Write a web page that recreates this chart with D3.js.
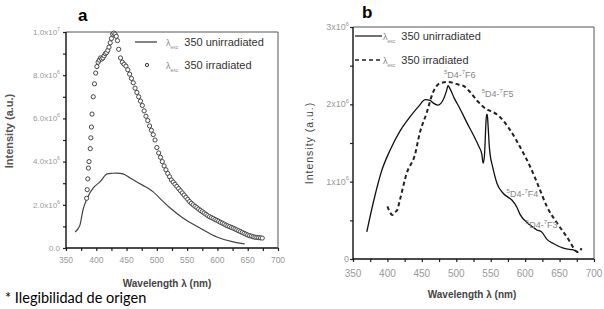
<!DOCTYPE html>
<html>
<head>
<meta charset="utf-8">
<script src="https://cdn.jsdelivr.net/npm/d3@7"></script>
<style>
  body { margin: 0; background: #fff; }
  svg { display: block; font-family: "Liberation Sans", Arial, sans-serif; }
</style>
</head>
<body>
<div id="chart"></div>
<script>
const W = 604, H = 309;

// panel a: values in units of 1e6
const aUnirrNm  = [365, 370, 373, 378, 386, 395, 406, 418, 426, 434, 444, 456, 467, 477, 486, 494, 505, 522, 543, 571, 599, 626, 645];
const aUnirrVal = [0.74, 0.9, 1.06, 1.76, 2.36, 2.78, 3.06, 3.43, 3.46, 3.47, 3.43, 3.24, 3.06, 2.9, 2.76, 2.6, 2.3, 1.85, 1.39, 0.93, 0.51, 0.28, 0.19];

const aIrrNm  = [384, 385, 386, 387, 388, 390, 391, 392, 393, 395, 397, 399, 401, 403, 405, 407, 409, 411, 413, 415, 417, 419, 421, 423, 425, 427, 429, 431, 433, 435, 437, 440, 443, 446, 449, 452, 455, 458, 461, 464, 467, 470, 473, 476, 479, 482, 485, 488, 491, 494, 497, 500, 503, 506, 509, 512, 515, 518, 521, 524, 527, 530, 533, 536, 539, 542, 545, 548, 551, 554, 557, 560, 563, 566, 569, 572, 575, 578, 581, 584, 587, 590, 593, 596, 599, 602, 605, 608, 611, 614, 617, 620, 623, 626, 629, 632, 635, 638, 641, 644, 647, 650, 653, 656, 659, 662, 665, 668, 671, 674];
const aIrrVal = [2.3, 2.7, 3.2, 3.7, 4.0, 4.6, 5.1, 5.6, 6.2, 7.0, 7.6, 8.1, 8.4, 8.6, 8.7, 8.8, 8.75, 8.8, 8.9, 9.0, 9.05, 9.15, 9.3, 9.5, 9.7, 9.9, 9.95, 9.9, 9.8, 9.6, 9.2, 8.8, 8.6, 8.5, 8.42, 8.25, 8.05, 7.85, 7.65, 7.4, 7.2, 7.0, 6.8, 6.6, 6.35, 6.1, 5.9, 5.65, 5.45, 5.25, 5.0, 4.65, 4.4, 4.2, 4.0, 3.8, 3.62, 3.45, 3.3, 3.15, 3.05, 2.95, 2.85, 2.75, 2.65, 2.55, 2.45, 2.35, 2.25, 2.15, 2.07, 2.0, 1.93, 1.87, 1.8, 1.74, 1.68, 1.62, 1.56, 1.5, 1.45, 1.41, 1.37, 1.32, 1.28, 1.24, 1.19, 1.15, 1.11, 1.06, 1.02, 0.99, 0.95, 0.92, 0.88, 0.84, 0.8, 0.76, 0.72, 0.68, 0.64, 0.6, 0.57, 0.55, 0.52, 0.5, 0.49, 0.48, 0.47, 0.46];

// panel b: values in units of 1e6
const bUnirrNm  = [370, 380, 392, 404, 418, 433, 445, 455, 462, 466, 473, 481, 486, 488, 491, 497, 505, 515, 525, 533, 537, 539, 541, 543, 544, 545, 546, 548, 550, 552, 559, 568, 575, 581, 588, 593, 603, 610, 617, 624, 632, 641, 651, 660, 669, 677];
const bUnirrVal = [0.35, 0.75, 1.15, 1.41, 1.65, 1.84, 1.97, 2.06, 2.05, 2.02, 1.99, 2.06, 2.18, 2.24, 2.2, 2.08, 1.95, 1.77, 1.6, 1.45, 1.36, 1.24, 1.35, 1.75, 1.87, 1.87, 1.75, 1.45, 1.3, 1.22, 0.98, 0.85, 0.8, 0.76, 0.67, 0.57, 0.47, 0.42, 0.375, 0.35, 0.25, 0.2, 0.155, 0.13, 0.12, 0.08];

const bIrrNm  = [400, 404, 407, 410, 414, 418, 428, 440, 447, 457, 466, 476, 488, 495, 505, 510, 520, 530, 539, 563, 578, 595, 607, 619, 632, 646, 661, 677, 682];
const bIrrVal = [0.68, 0.6, 0.57, 0.6, 0.63, 0.76, 1.11, 1.35, 1.63, 1.89, 2.15, 2.27, 2.29, 2.28, 2.25, 2.24, 2.16, 2.05, 1.97, 1.84, 1.67, 1.41, 1.2, 0.95, 0.67, 0.47, 0.28, 0.09, 0.14];

const xTicks = [350, 400, 450, 500, 550, 600, 650, 700];
const aYTicks = [0, 2, 4, 6, 8, 10];
const aYLabels = [["0.0", ""], ["2.0x10", "6"], ["4.0x10", "6"], ["6.0x10", "6"], ["8.0x10", "6"], ["1.0x10", "7"]];
const bYTicks = [0, 1, 2, 3];
const bYLabels = [["0", ""], ["1x10", "6"], ["2x10", "6"], ["3x10", "6"]];
const bNotes = [
  { nm: 482, v: 2.34, t: "F6" },
  { nm: 537, v: 2.1, t: "F5" },
  { nm: 573, v: 0.8, t: "F4" },
  { nm: 601, v: 0.4, t: "F3" }
];

const svg = d3.select("#chart").append("svg").attr("width", W).attr("height", H);

const xa = d3.scaleLinear().domain([350, 700]).range([66, 278]);
const ya = d3.scaleLinear().domain([0, 10]).range([248, 32]);
const xb = d3.scaleLinear().domain([350, 700]).range([353, 594]);
const yb = d3.scaleLinear().domain([0, 3]).range([259, 27]);

function frame(x, y, minorX, minorY) {
  const g = svg.append("g");
  const [x0, x1] = x.range(), [y0, y1] = y.range();
  // small outward ticks
  g.append("g").attr("transform", `translate(0,${y0})`)
    .call(d3.axisBottom(x).tickValues(minorX).tickSize(3).tickFormat(""))
    .call(s => s.select(".domain").remove());
  g.append("g").attr("transform", `translate(${x0},0)`)
    .call(d3.axisLeft(y).tickValues(minorY).tickSize(3).tickFormat(""))
    .call(s => s.select(".domain").remove());
  g.selectAll("line").attr("stroke", "#222").attr("stroke-width", 1.2);
  g.append("path").attr("d", `M${x0},${y1}H${x1}V${y0}`)
    .attr("fill", "none").attr("stroke", "#555").attr("stroke-width", 1);
  g.append("path").attr("d", `M${x0},${y1}V${y0}H${x1}`)
    .attr("fill", "none").attr("stroke", "#111").attr("stroke-width", 1.4);
}

function yLabels(y, ticks, labels, xr, size) {
  ticks.forEach((t, i) => {
    const tx = svg.append("text").attr("x", xr).attr("y", y(t) + size * 0.35)
      .attr("text-anchor", "end").attr("fill", "#999").attr("font-size", size);
    tx.append("tspan").text(labels[i][0]);
    if (labels[i][1]) tx.append("tspan").attr("dy", -size * 0.5).attr("font-size", size * 0.65).text(labels[i][1]);
  });
}

function xLabels(x, yPos, size) {
  svg.append("g").selectAll("text").data(xTicks).join("text")
    .attr("x", d => x(d)).attr("y", yPos).attr("text-anchor", "middle")
    .attr("fill", "#999").attr("font-size", size).text(d => d);
}

function legendText(x, y, label) {
  const t = svg.append("text").attr("x", x).attr("y", y + 4).attr("fill", "#333");
  t.append("tspan").attr("font-size", 9).attr("fill", "#888").text("λ");
  t.append("tspan").attr("font-size", 5).attr("dy", 3).attr("fill", "#888").text("exc");
  t.append("tspan").attr("font-size", 11).attr("dy", -3).attr("dx", 6).text(label);
}

// ---------- panel a ----------
frame(xa, ya, d3.range(350, 701, 25), d3.range(0, 10.1, 1));
yLabels(ya, aYTicks, aYLabels, 60, 8);
xLabels(xa, 263, 8.5);

const lineA = d3.line().x(d => xa(d[0])).y(d => ya(d[1])).curve(d3.curveMonotoneX);
svg.append("path").datum(d3.zip(aUnirrNm, aUnirrVal)).attr("d", lineA)
  .attr("fill", "none").attr("stroke", "#444").attr("stroke-width", 1.2);
svg.append("g").selectAll("circle").data(d3.zip(aIrrNm, aIrrVal)).join("circle")
  .attr("cx", d => xa(d[0])).attr("cy", d => ya(d[1])).attr("r", 2.1)
  .attr("fill", "#fff").attr("stroke", "#333").attr("stroke-width", 0.9);

svg.append("text").attr("x", 78).attr("y", 21).attr("font-size", 17).attr("font-weight", "bold").text("a");
svg.append("line").attr("x1", 135).attr("x2", 157).attr("y1", 42).attr("y2", 42).attr("stroke", "#333").attr("stroke-width", 1.2);
legendText(166, 42, "350 unirradiated");
svg.append("circle").attr("cx", 147).attr("cy", 65).attr("r", 1.6).attr("fill", "#fff").attr("stroke", "#333");
legendText(166, 65, "350 irradiated");

svg.append("text").attr("transform", "translate(13,131) rotate(-90)").attr("text-anchor", "middle")
  .attr("font-size", 11).attr("font-weight", "bold").attr("fill", "#555").text("Intensity (a.u.)");
svg.append("text").attr("x", 167).attr("y", 287).attr("text-anchor", "middle")
  .attr("font-size", 10).attr("font-weight", "bold").attr("fill", "#444").text("Wavelength λ (nm)");

svg.append("text").attr("x", 5).attr("y", 303).attr("font-family", "Lato, sans-serif")
  .attr("font-size", 14.5).attr("fill", "#000").text("* Ilegibilidad de origen");

// ---------- panel b ----------
frame(xb, yb, d3.range(350, 701, 25), d3.range(0, 3.01, 0.5));
yLabels(yb, bYTicks, bYLabels, 349, 9);
xLabels(xb, 277, 10);

const lineB = d3.line().x(d => xb(d[0])).y(d => yb(d[1])).curve(d3.curveMonotoneX);
svg.append("path").datum(d3.zip(bUnirrNm, bUnirrVal)).attr("d", lineB)
  .attr("fill", "none").attr("stroke", "#111").attr("stroke-width", 1.3);
svg.append("path").datum(d3.zip(bIrrNm, bIrrVal)).attr("d", lineB)
  .attr("fill", "none").attr("stroke", "#222").attr("stroke-width", 2).attr("stroke-dasharray", "4,3");

svg.append("text").attr("x", 362).attr("y", 18).attr("font-size", 17).attr("font-weight", "bold").text("b");
svg.append("line").attr("x1", 355).attr("x2", 382).attr("y1", 36).attr("y2", 36).attr("stroke", "#111").attr("stroke-width", 1.2);
legendText(383, 36, "350 unirradiated");
svg.append("line").attr("x1", 355).attr("x2", 382).attr("y1", 60).attr("y2", 60).attr("stroke", "#222")
  .attr("stroke-width", 1.6).attr("stroke-dasharray", "4,3");
legendText(383, 60, "350 irradiated");

bNotes.forEach(n => {
  const t = svg.append("text").attr("x", xb(n.nm)).attr("y", yb(n.v)).attr("font-size", 9).attr("fill", "#888");
  t.append("tspan").attr("font-size", 6).attr("dy", -4).text("5");
  t.append("tspan").attr("dy", 4).text("D4-");
  t.append("tspan").attr("font-size", 6).attr("dy", -4).text("7");
  t.append("tspan").attr("dy", 4).text(n.t);
});

svg.append("text").attr("transform", "translate(313,143) rotate(-90)").attr("text-anchor", "middle")
  .attr("font-size", 10.5).attr("letter-spacing", 1).attr("fill", "#444").text("Intensity (a.u.)");
svg.append("text").attr("x", 472).attr("y", 298).attr("text-anchor", "middle")
  .attr("font-size", 10).attr("font-weight", "bold").attr("fill", "#444").text("Wavelength λ (nm)");
</script>
</body>
</html>
